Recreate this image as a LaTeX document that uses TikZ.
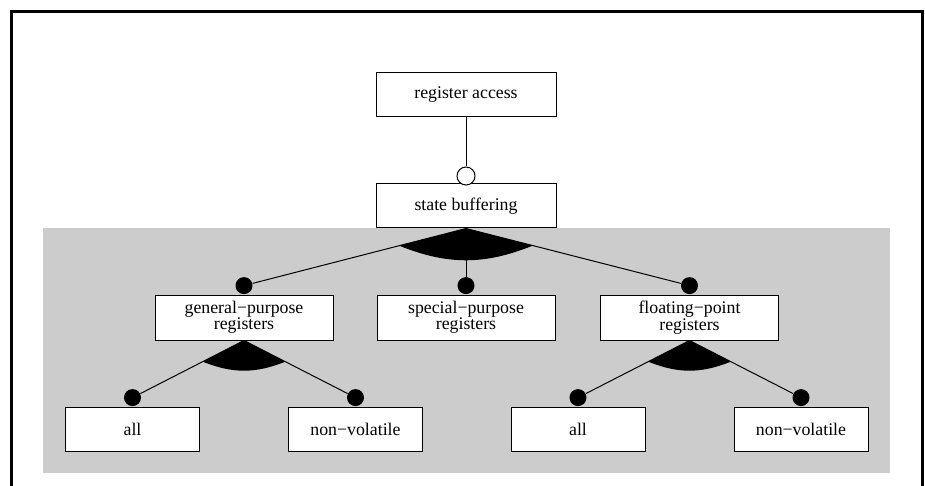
\documentclass[tikz,border=0pt]{standalone}
\usepackage{fontspec}
\setmainfont{Liberation Serif}
\usetikzlibrary{positioning,calc}
\definecolor{bggray}{RGB}{204,204,204}
\newcommand{\orfan}[4]{%
  \fill (#1)--($(#1)!#4!(#2)$) to[bend right=22] ($(#1)!#4!(#3)$)--cycle;
}
\tikzset{
  feat/.style={draw,fill=white,line width=0.5pt,inner sep=0pt,align=center,
    font=\fontsize{8.9}{8.2}\selectfont},
  topfeat/.style={feat,minimum width=90pt,minimum height=22pt},
  midfeat/.style={feat,minimum width=89pt,minimum height=22.5pt},
  leaffeat/.style={feat,minimum width=67pt,minimum height=22pt},
  optdot/.style={draw,fill=white,circle,minimum size=9pt,inner sep=0pt,line width=0.5pt},
  mandot/.style={fill=black,circle,minimum size=8.5pt,inner sep=0pt},
  link/.style={line width=0.5pt},
}
\begin{document}
\begin{tikzpicture}[x=0.5pt,y=-0.5pt]
  \useasboundingbox (0,0) rectangle (925,486);
  \fill[bggray](42.7,228)rectangle(890,473);
  \draw[line width=1.35pt](11.3,495)--(11.3,11.3)--(922.3,11.3)--(922.3,495);
  \node[topfeat] (access) at (466,95) {register access};
  \node[topfeat] (buffer) at (466,206) {state buffering};
  \node[midfeat] (gpr) at (244,317.5) {general−purpose\\registers};
  \node[midfeat] (spr) at (466,317.5) {special−purpose\\registers};
  \node[midfeat] (fpr) at (689.5,317.5) {floating−point\\registers};
  \node[leaffeat] (gall) at (132.5,429) {all};
  \node[leaffeat] (gnv) at (355.5,429) {non−volatile};
  \node[leaffeat] (fall) at (578,429) {all};
  \node[leaffeat] (fnv) at (801,429) {non−volatile};
  \node[optdot,above=-1pt of buffer] (bufdot) {};
  \foreach \f in {gpr,spr,fpr,gall,gnv,fall,fnv}{%
    \node[mandot,above=0pt of \f] (\f dot) {};
  }
  \draw[link](access)--(bufdot);
  \foreach \f in {gpr,spr,fpr}{%
    \draw[link](buffer.south)--(\f dot);
  }
  \draw[link](gpr.south)--(galldot) (gpr.south)--(gnvdot);
  \draw[link](fpr.south)--(falldot) (fpr.south)--(fnvdot);
  \orfan{buffer.south}{gprdot}{fprdot}{34.5pt}
  \orfan{gpr.south}{galldot}{gnvdot}{23.2pt}
  \orfan{fpr.south}{falldot}{fnvdot}{23.2pt}
\end{tikzpicture}
\end{document}
